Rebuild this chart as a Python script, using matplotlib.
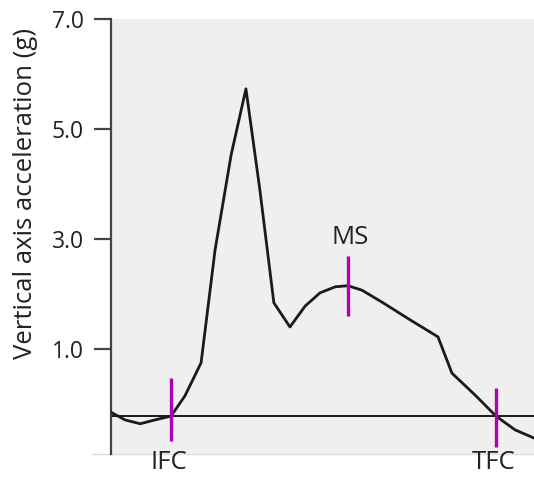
import matplotlib
matplotlib.use("Agg")
import matplotlib.pyplot as plt

plt.rcParams["font.family"] = ["Open Sans", "DejaVu Sans"]

# gait cycle (%) vs vertical acceleration (g)
cycle = [0, 3.3, 6.9, 10.4, 14.2, 17.5, 21.3, 24.6, 28.4, 31.9, 35.2, 38.5,
         42.3, 45.9, 49.4, 53.0, 56.0, 59.3, 64.3, 70.7, 77.3, 80.6, 86.1,
         91.0, 95.5, 100]
accel = [-0.15, -0.29, -0.36, -0.29, -0.22, 0.15, 0.75, 2.8, 4.53, 5.73,
         3.89, 1.84, 1.4, 1.78, 2.02, 2.13, 2.15, 2.07, 1.84, 1.53, 1.22,
         0.56, 0.16, -0.22, -0.47, -0.62]

baseline = -0.22

events = ["IFC", "MS", "TFC"]
event_x = [14.2, 56.0, 91.0]
event_lo = [-0.67, 1.60, -0.78]
event_hi = [0.47, 2.69, 0.29]

yticks = [1.0, 3.0, 5.0, 7.0]

fig = plt.figure(figsize=(5.34, 4.78), dpi=100)
ax = fig.add_axes([111/534, 24/478, 423/534, 435/478])
ax.set_facecolor("#efefef")

ax.axhline(baseline, color="#1a1a1a", lw=1.4, zorder=2)
ax.plot(cycle, accel, color="#1a1a1a", lw=2.0, zorder=3)

for name, ex, lo, hi in zip(events, event_x, event_lo, event_hi):
    ax.plot([ex, ex], [lo, hi], color="#b000b8", lw=2.4, zorder=4,
            solid_capstyle="butt")
    if name == "MS":
        ax.text(ex + 0.5, hi + 0.33, name, ha="center", va="center",
                fontsize=18.5, color="#222222")
    else:
        ax.text(ex - 0.6, -1.06, name, ha="center", va="center",
                fontsize=18.5, color="#222222", clip_on=False)

ax.set_xlim(0, 100)
ax.set_ylim(-0.91, 7.0)
ax.set_xticks([])
ax.set_yticks(yticks)
ax.set_yticklabels([f"{v:.1f}" for v in yticks], fontsize=16.5, color="#222222")
ax.tick_params(axis="y", length=12.5, width=1.6, color="#444444", pad=7)

ax.spines["top"].set_visible(False)
ax.spines["right"].set_visible(False)
ax.spines["left"].set_color("#444444")
ax.spines["left"].set_linewidth(1.6)
ax.spines["bottom"].set_visible(False)
ax.plot([-0.045, 1.0], [0, 0], transform=ax.transAxes, color="#dddddd",
        lw=1.0, clip_on=False, zorder=1)

ax.set_ylabel("Vertical axis acceleration (g)", fontsize=18.5, color="#222222")
ax.yaxis.set_label_coords(-0.173, 0.598)

fig.savefig("out.png", dpi=100)
